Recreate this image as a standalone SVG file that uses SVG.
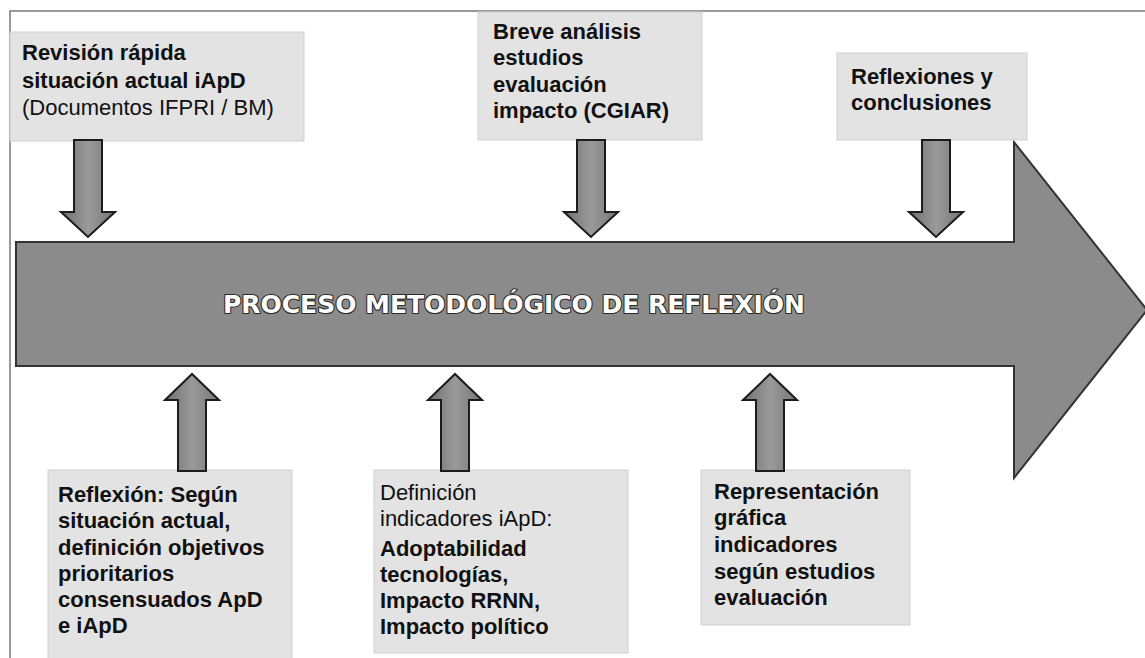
<svg xmlns="http://www.w3.org/2000/svg" width="1145" height="658" viewBox="0 0 1145 658">
<defs>
<linearGradient id="ag" x1="0" y1="0" x2="1" y2="0">
<stop offset="0" stop-color="#6f6f6f"/>
<stop offset="0.5" stop-color="#9a9a9a"/>
<stop offset="1" stop-color="#767676"/>
</linearGradient>
</defs>
<style>
.box{fill:#e3e3e3;stroke:#cfcfcf;stroke-width:1}
.t{font-family:"Liberation Sans",Arial,sans-serif;font-size:22px;fill:#111}
.b{font-weight:bold}
.arr{fill:url(#ag);stroke:#1c1c1c;stroke-width:2;stroke-linejoin:miter}
.title{font-family:"DejaVu Sans","Liberation Sans",sans-serif;font-size:25px;font-weight:bold;fill:#fff;stroke:#2a2a2a;stroke-width:2.2;paint-order:stroke;stroke-linejoin:round}
</style>
<rect width="1145" height="658" fill="#fff"/>
<g id="frame">
<path d="M10,658 L10,11 L1145,11" fill="none" stroke="#7a7a7a" stroke-width="1.5"/>
</g>
<g id="main-process">
<polygon points="16,242 1014,242 1014,142 1147,310 1014,478 1014,366 16,366" fill="#8b8b8b" stroke="#333" stroke-width="2"/>
<text class="title" x="514" y="313" text-anchor="middle" textLength="582" lengthAdjust="spacingAndGlyphs">PROCESO METODOLÓGICO DE REFLEXIÓN</text>
</g>
<g id="box-revision">
<rect class="box" x="10" y="32" width="294" height="109"/>
<text class="t b" x="22" y="60">Revisión rápida</text>
<text class="t b" x="22" y="88">situación actual iApD</text>
<text class="t" x="22" y="115">(Documentos IFPRI / BM)</text>
</g>
<g id="box-breve">
<rect class="box" x="478" y="12" width="224" height="128"/>
<text class="t b" x="493" y="39">Breve análisis</text>
<text class="t b" x="493" y="65">estudios</text>
<text class="t b" x="493" y="92">evaluación</text>
<text class="t b" x="493" y="118">impacto (CGIAR)</text>
</g>
<g id="box-reflexiones">
<rect class="box" x="837" y="53" width="190" height="87"/>
<text class="t b" x="851" y="84">Reflexiones y</text>
<text class="t b" x="851" y="110">conclusiones</text>
</g>
<g id="box-reflexion-segun">
<rect class="box" x="48" y="470" width="244" height="190"/>
<text class="t b" x="58" y="502">Reflexión: Según</text>
<text class="t b" x="58" y="528">situación actual,</text>
<text class="t b" x="58" y="555">definición objetivos</text>
<text class="t b" x="58" y="581">prioritarios</text>
<text class="t b" x="58" y="607">consensuados ApD</text>
<text class="t b" x="58" y="633">e iApD</text>
</g>
<g id="box-definicion">
<rect class="box" x="374" y="470" width="254" height="183"/>
<text class="t" x="380" y="500">Definición</text>
<text class="t" x="380" y="526">indicadores iApD:</text>
<text class="t b" x="380" y="556">Adoptabilidad</text>
<text class="t b" x="380" y="582">tecnologías,</text>
<text class="t b" x="380" y="608">Impacto RRNN,</text>
<text class="t b" x="380" y="634">Impacto político</text>
</g>
<g id="box-representacion">
<rect class="box" x="701" y="470" width="209" height="155"/>
<text class="t b" x="714" y="499">Representación</text>
<text class="t b" x="714" y="525">gráfica</text>
<text class="t b" x="714" y="552">indicadores</text>
<text class="t b" x="714" y="579">según estudios</text>
<text class="t b" x="714" y="605">evaluación</text>
</g>
<g id="connectors">
<path class="arr" d="M74,140 L102,140 L102,212 L115,212 L88,237 L61,212 L74,212 Z"/>
<path class="arr" d="M577,140 L605,140 L605,212 L618,212 L591,237 L564,212 L577,212 Z"/>
<path class="arr" d="M922,140 L950,140 L950,212 L963,212 L936,237 L909,212 L922,212 Z"/>
<path class="arr" d="M178,471 L206,471 L206,400 L219,400 L192,374 L165,400 L178,400 Z"/>
<path class="arr" d="M441,471 L469,471 L469,400 L482,400 L455,374 L428,400 L441,400 Z"/>
<path class="arr" d="M756,471 L784,471 L784,400 L797,400 L770,374 L743,400 L756,400 Z"/>
</g>
</svg>
